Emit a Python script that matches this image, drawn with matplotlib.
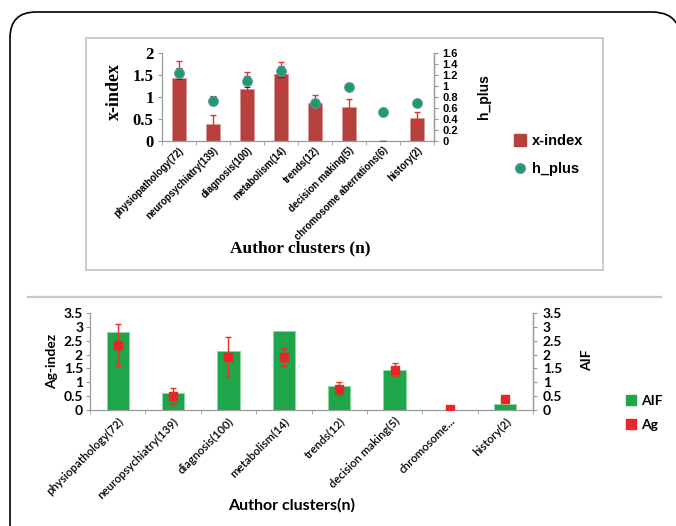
import matplotlib
matplotlib.use("Agg")
import matplotlib.pyplot as plt
import numpy as np
from matplotlib.patches import Rectangle, PathPatch
from matplotlib.path import Path
from matplotlib.lines import Line2D

# ---- data ----
top_categories = ["physiopathology(72)", "neuropsychiatry(139)", "diagnosis(100)",
                  "metabolism(14)", "trends(12)", "decision making(5)",
                  "chromosome aberrations(6)", "history(2)"]
x_index = [1.43, 0.38, 1.19, 1.52, 0.87, 0.77, 0.0, 0.52]
x_index_err = [0.38, 0.20, 0.37, 0.28, 0.18, 0.18, 0.0, 0.13]
h_plus = [1.23, 0.73, 1.09, 1.27, 0.70, 0.98, 0.53, 0.70]
h_plus_err = [0.10, 0.08, 0.10, 0.10, 0.05, 0.06, 0.0, 0.0]

bottom_categories = ["physiopathology(72)", "neuropsychiatry(139)", "diagnosis(100)",
                     "metabolism(14)", "trends(12)", "decision making(5)",
                     "chromosome...", "history(2)"]
aif = [2.82, 0.61, 2.12, 2.86, 0.86, 1.44, 0.0, 0.22]
ag = [2.35, 0.50, 1.90, 1.90, 0.77, 1.45, 0.04, 0.38]
ag_err = [0.75, 0.28, 0.72, 0.32, 0.23, 0.24, 0.0, 0.0]

top_left_ticks = [0, 0.5, 1, 1.5, 2]
top_left_labels = ["0", "0.5", "1", "1.5", "2"]
top_right_ticks = [0, 0.2, 0.4, 0.6, 0.8, 1.0, 1.2, 1.4, 1.6]
top_right_labels = ["0", "0.2", "0.4", "0.6", "0.8", "1", "1.2", "1.4", "1.6"]
bot_ticks = [0, 0.5, 1, 1.5, 2, 2.5, 3, 3.5]
bot_labels = ["0", "0.5", "1", "1.5", "2", "2.5", "3", "3.5"]

W, H = 676, 526
fig = plt.figure(figsize=(W / 100, H / 100), dpi=100)
fig.patch.set_facecolor("white")

def fx(px):
    return px / W

def fy(py):
    return (H - py) / H

# ---- decorations ----
L, T, r = 10, 12, 26
verts = [(L, 560), (L, T + r), (L, T), (L + r, T), (652, T), (670, T), (677, T + 12)]
codes = [Path.MOVETO, Path.LINETO, Path.CURVE3, Path.CURVE3, Path.LINETO,
         Path.CURVE3, Path.CURVE3]
verts_f = [(fx(a), fy(b)) for a, b in verts]
outer = PathPatch(Path(verts_f, codes), transform=fig.transFigure, fill=False,
                  edgecolor="black", linewidth=1.2)
fig.patches.append(outer)
box = Rectangle((fx(86), fy(270)), fx(603) - fx(86), fy(38) - fy(270),
                transform=fig.transFigure, fill=False, edgecolor="#c8c8c8", linewidth=1.3)
fig.patches.append(box)
fig.add_artist(Line2D([fx(28), fx(661)], [fy(297), fy(297)], transform=fig.transFigure,
                      color="#c8c8c8", linewidth=1.6))

axis_gray = "#9a9a9a"

def style_axes(ax):
    ax.spines["top"].set_visible(False)
    for s in ["left", "right", "bottom"]:
        ax.spines[s].set_color(axis_gray)
        ax.spines[s].set_linewidth(0.9)

# ---- top chart ----
serif = "Liberation Serif"
ax1 = fig.add_axes([fx(162), fy(141), fx(434) - fx(162), fy(53) - fy(141)])
x = np.arange(len(top_categories))
ax1.bar(x, x_index, width=0.42, color="#B5413F", edgecolor="#d89a98", linewidth=0.6, zorder=2)
ax1.errorbar(x, x_index, yerr=x_index_err, fmt="none", ecolor="#E8302A", elinewidth=1.0,
             capsize=2.5, capthick=1.0, zorder=3)
ax1.set_xlim(-0.5, len(top_categories) - 0.5)
ax1.set_ylim(0, 2)
ax1.set_yticks(top_left_ticks)
ax1.set_yticklabels(top_left_labels, fontfamily=serif, fontweight="bold", fontsize=12)
ax1.set_xticks(x)
ax1.set_xticklabels(top_categories, rotation=45, ha="right", rotation_mode="anchor",
                    fontfamily="Liberation Sans", fontweight="bold", fontsize=6.9)
ax1.set_xticks(np.arange(-0.5, len(top_categories)), minor=True)
ax1.tick_params(axis="x", which="major", length=0, pad=3)
ax1.tick_params(axis="x", which="minor", length=3, color=axis_gray)
ax1.tick_params(axis="y", length=3, color=axis_gray, pad=3)
style_axes(ax1)

ax1r = ax1.twinx()
ax1r.errorbar(x, h_plus, yerr=h_plus_err, fmt="o", color="#1E9E5A", markersize=7,
              markeredgecolor="#5b8fc7", markeredgewidth=0.8, ecolor="#333333",
              elinewidth=1.0, capsize=2.5, capthick=1.0, zorder=4)
ax1r.set_ylim(0, 1.6)
ax1r.set_yticks(top_right_ticks)
ax1r.set_yticklabels(top_right_labels, fontfamily="Liberation Sans", fontweight="bold", fontsize=8)
ax1r.tick_params(axis="y", length=3, color=axis_gray, pad=3)
style_axes(ax1r)
ax1r.spines["left"].set_visible(False)
ax1r.spines["bottom"].set_visible(False)

fig.text(fx(114), fy(92), "x-index", rotation=90, ha="center", va="center",
         fontfamily=serif, fontweight="bold", fontsize=13)
fig.text(fx(484), fy(97), "h_plus", rotation=90, ha="center", va="center",
         fontfamily="Liberation Sans", fontweight="bold", fontsize=10)
fig.text(fx(300), fy(248), "Author clusters (n)", ha="center", va="center",
         fontfamily=serif, fontweight="bold", fontsize=12.5)

h1 = Line2D([], [], marker="s", linestyle="none", color="#B5413F", markersize=8)
h2 = Line2D([], [], marker="o", linestyle="none", color="#1E9E5A", markeredgecolor="#5b8fc7",
            markersize=7)
fig.legend([h1, h2], ["x-index", "h_plus"], loc="center left",
           bbox_to_anchor=(fx(500), fy(155)), frameon=False, handlelength=1.0,
           handletextpad=0.3, labelspacing=1.0,
           prop={"family": "Liberation Sans", "weight": "bold", "size": 10.5})

# ---- bottom chart ----
sans = "Lato"
ax2 = fig.add_axes([fx(90), fy(410), fx(533) - fx(90), fy(313) - fy(410)])
xb = np.arange(len(bottom_categories))
ax2.bar(xb, aif, width=0.4, color="#1FA54A", edgecolor="#8fd6a0", linewidth=0.6, zorder=2)
ax2.set_xlim(-0.5, len(bottom_categories) - 0.5)
ax2.set_ylim(0, 3.5)
ax2.set_yticks(bot_ticks)
ax2.set_yticklabels(bot_labels, fontfamily=sans, fontweight="bold", fontsize=10)
ax2.set_xticks(xb)
ax2.set_xticklabels(bottom_categories, rotation=45, ha="right", rotation_mode="anchor",
                    fontfamily=sans, fontweight="semibold", fontsize=8.3)
ax2.set_xticks(np.arange(-0.5, len(bottom_categories)), minor=True)
ax2.tick_params(axis="x", which="major", length=0, pad=4)
ax2.tick_params(axis="x", which="minor", length=3, color=axis_gray)
ax2.tick_params(axis="y", length=3, color=axis_gray, pad=2)
style_axes(ax2)

ax2r = ax2.twinx()
ax2r.set_ylim(0, 3.5)
ax2r.set_yticks(bot_ticks)
ax2r.set_yticklabels(bot_labels, fontfamily=sans, fontweight="bold", fontsize=10)
ax2r.tick_params(axis="y", length=3, color=axis_gray, pad=4)
style_axes(ax2r)
ax2r.spines["left"].set_visible(False)
ax2r.spines["bottom"].set_visible(False)

ax2.errorbar(xb, ag, yerr=ag_err, fmt="s", color="#E8262A", markersize=6,
             ecolor="#E8302A", elinewidth=1.0, capsize=2.5, capthick=1.0, zorder=4)

fig.text(fx(52), fy(361), "Ag-indez", rotation=90, ha="center", va="center",
         fontfamily=sans, fontweight="bold", fontsize=10)
fig.text(fx(587), fy(360), "AIF", rotation=90, ha="center", va="center",
         fontfamily=sans, fontweight="bold", fontsize=10)
fig.text(fx(292), fy(505), "Author clusters(n)", ha="center", va="center",
         fontfamily=sans, fontweight="bold", fontsize=11.5)

h3 = Line2D([], [], marker="s", linestyle="none", color="#1FA54A", markersize=7)
h4 = Line2D([], [], marker="s", linestyle="none", color="#E8262A", markersize=7)
fig.legend([h3, h4], ["AIF", "Ag"], loc="center left",
           bbox_to_anchor=(fx(612), fy(413)), frameon=False, handlelength=0.9,
           handletextpad=0.3, labelspacing=0.9,
           prop={"family": sans, "weight": "bold", "size": 10})

fig.savefig("out.png", dpi=100, facecolor="white")
